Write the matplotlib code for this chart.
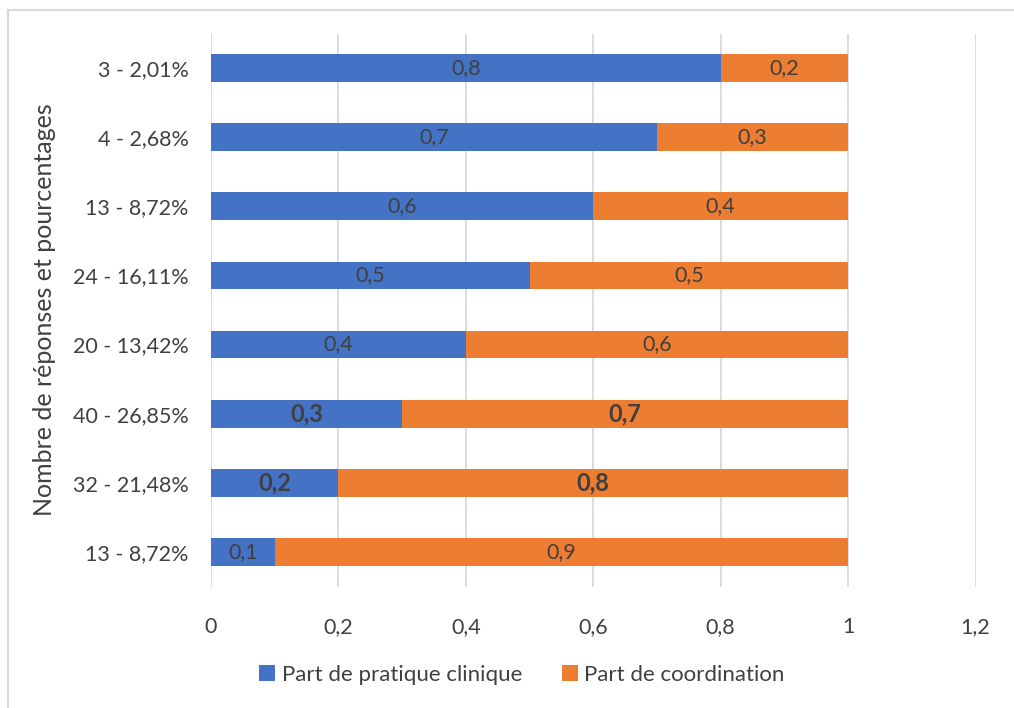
import matplotlib.pyplot as plt
from matplotlib.patches import Rectangle

categories = ["13 - 8,72%", "32 - 21,48%", "40 - 26,85%", "20 - 13,42%",
              "24 - 16,11%", "13 - 8,72%", "4 - 2,68%", "3 - 2,01%"]
clinique = [0.1, 0.2, 0.3, 0.4, 0.5, 0.6, 0.7, 0.8]
coordination = [0.9, 0.8, 0.7, 0.6, 0.5, 0.4, 0.3, 0.2]
bold_rows = [1, 2]
xticks = [0, 0.2, 0.4, 0.6, 0.8, 1, 1.2]
xtick_labels = ["0", "0,2", "0,4", "0,6", "0,8", "1", "1,2"]

plt.rcParams['font.family'] = ['Lato', 'DejaVu Sans']
BLUE = "#4472C4"
ORANGE = "#ED7D31"
TXT = "#404040"
GRID = "#D9D9D9"

fig = plt.figure(figsize=(10.14, 7.08), dpi=100)
fig.patches.append(Rectangle((8/1014, -0.01), 1.1, 1 - 10/708 + 0.01, transform=fig.transFigure,
                             fill=False, edgecolor=GRID, linewidth=1.5))
ax = fig.add_axes([211/1014, 1 - 586.5/708, (975.5 - 211)/1014, (586.5 - 33.5)/708])

y = list(range(len(categories)))
b1 = ax.barh(y, clinique, height=0.4, color=BLUE, zorder=3, label="Part de pratique clinique")
b2 = ax.barh(y, coordination, left=clinique, height=0.4, color=ORANGE, zorder=3,
             label="Part de coordination")

def fmt(v):
    return f"{v:.1f}".replace(".", ",")

for i in y:
    w = 'bold' if i in bold_rows else 'normal'
    fs = 17 if i in bold_rows else 15.5
    ax.text(clinique[i] / 2, i, fmt(clinique[i]), ha='center', va='center',
            color=TXT, fontsize=fs, fontweight=w, zorder=4)
    ax.text(clinique[i] + coordination[i] / 2, i, fmt(coordination[i]), ha='center', va='center',
            color=TXT, fontsize=fs, fontweight=w, zorder=4)

ax.set_xlim(0, 1.2)
ax.set_ylim(-0.5, len(categories) - 0.5)
ax.set_xticks(xticks)
ax.set_xticklabels(xtick_labels)
ax.set_yticks(y)
ax.set_yticklabels(categories)
ax.tick_params(axis='both', length=0, colors=TXT, labelsize=15.5)
ax.tick_params(axis='x', pad=22)
ax.tick_params(axis='y', pad=16)
ax.grid(axis='x', color=GRID, linewidth=1.3, zorder=0)
for s in ax.spines.values():
    s.set_visible(False)
ax.set_ylabel("Nombre de réponses et pourcentages", fontsize=18, color=TXT, labelpad=12)

fig.legend(handles=[b1, b2], loc='center', bbox_to_anchor=(522/1014, 1 - 675/708), ncol=2,
           frameon=False, fontsize=16, labelcolor=TXT, handlelength=0.7, handleheight=0.7,
           columnspacing=1.8, handletextpad=0.3)

fig.savefig("out.png", dpi=100)
